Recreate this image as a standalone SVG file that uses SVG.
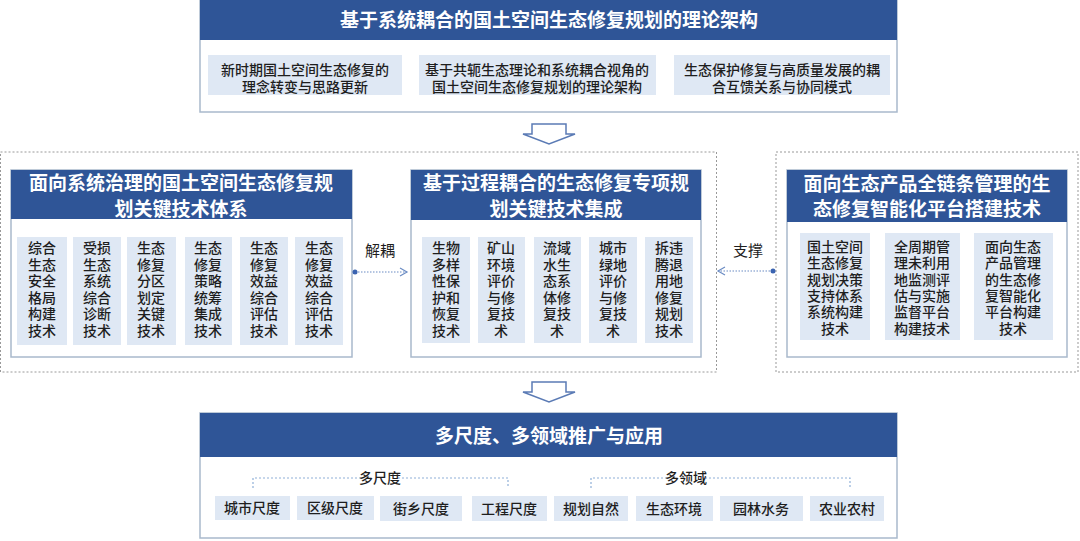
<svg xmlns="http://www.w3.org/2000/svg" width="1080" height="541" viewBox="0 0 1080 541">
<defs>
<style>
text{font-family:"Noto Sans CJK SC","Noto Sans",sans-serif;fill:#1e1e1e}
.hd{fill:#2f5597}
.body{fill:#fff;stroke:#a9b9cc;stroke-width:1.5}
.sub{fill:#dfe8f4}
.ttl{fill:#fff;font-size:19px;font-weight:700;text-anchor:middle}
.t14{font-size:14px;text-anchor:middle;font-weight:500}
.col{font-size:14px;text-anchor:middle;font-weight:500}
.dash{fill:none;stroke:#999;stroke-width:1;stroke-dasharray:2 2}
.blue{fill:none;stroke:#8fb0d8;stroke-width:1.2;stroke-dasharray:2 2}
.hollow{fill:#fff;stroke:#5b7bb5;stroke-width:1.5}
.conn{fill:none;stroke:#6b8cc4;stroke-width:1.2;stroke-dasharray:1.5 1.5}
</style>
<marker id="ah" markerWidth="10" markerHeight="10" refX="8" refY="5" orient="auto" markerUnits="userSpaceOnUse">
<path d="M1,1 L8,5 L1,9" fill="none" stroke="#6b8cc4" stroke-width="1.2"/>
</marker>
</defs>

<g id="top">
<rect class="body" x="200" y="0" width="697" height="112"/>
<rect class="hd" x="200" y="0" width="697" height="40"/>
<text class="ttl" x="549" y="27">基于系统耦合的国土空间生态修复规划的理论架构</text>
<rect class="sub" x="208" y="55" width="194" height="40"/>
<text class="t14" x="305" y="75">新时期国土空间生态修复的</text>
<text class="t14" x="305" y="92">理念转变与思路更新</text>
<rect class="sub" x="419" y="55" width="237" height="40"/>
<text class="t14" x="537" y="75">基于共轭生态理论和系统耦合视角的</text>
<text class="t14" x="537" y="92">国土空间生态修复规划的理论架构</text>
<rect class="sub" x="674" y="55" width="216" height="40"/>
<text class="t14" x="782" y="75">生态保护修复与高质量发展的耦</text>
<text class="t14" x="782" y="92">合互馈关系与协同模式</text>
</g>

<g id="arrow1"><path class="hollow" d="M532,124 H566 V134 H575 L549,144 L523,134 H532 Z"/></g>

<rect class="dash" x="0.5" y="152" width="716" height="220"/>
<rect class="dash" x="776" y="152" width="302" height="220"/>

<g id="left">
<rect class="body" x="11" y="170" width="341" height="187"/>
<rect class="hd" x="11" y="170" width="341" height="49"/>
<text class="ttl" x="181" y="190">面向系统治理的国土空间生态修复规</text>
<text class="ttl" x="181" y="216">划关键技术体系</text>
<rect class="sub" x="17" y="237" width="50" height="108"/>
<rect class="sub" x="73" y="237" width="48" height="108"/>
<rect class="sub" x="127" y="237" width="49" height="108"/>
<rect class="sub" x="185" y="237" width="47" height="108"/>
<rect class="sub" x="240" y="237" width="48" height="108"/>
<rect class="sub" x="295" y="237" width="48" height="108"/>
<text class="col" y="253"><tspan x="42">综合</tspan><tspan x="42" dy="16.6">生态</tspan><tspan x="42" dy="16.6">安全</tspan><tspan x="42" dy="16.6">格局</tspan><tspan x="42" dy="16.6">构建</tspan><tspan x="42" dy="16.6">技术</tspan></text>
<text class="col" y="253"><tspan x="97">受损</tspan><tspan x="97" dy="16.6">生态</tspan><tspan x="97" dy="16.6">系统</tspan><tspan x="97" dy="16.6">综合</tspan><tspan x="97" dy="16.6">诊断</tspan><tspan x="97" dy="16.6">技术</tspan></text>
<text class="col" y="253"><tspan x="151">生态</tspan><tspan x="151" dy="16.6">修复</tspan><tspan x="151" dy="16.6">分区</tspan><tspan x="151" dy="16.6">划定</tspan><tspan x="151" dy="16.6">关键</tspan><tspan x="151" dy="16.6">技术</tspan></text>
<text class="col" y="253"><tspan x="208">生态</tspan><tspan x="208" dy="16.6">修复</tspan><tspan x="208" dy="16.6">策略</tspan><tspan x="208" dy="16.6">统筹</tspan><tspan x="208" dy="16.6">集成</tspan><tspan x="208" dy="16.6">技术</tspan></text>
<text class="col" y="253"><tspan x="264">生态</tspan><tspan x="264" dy="16.6">修复</tspan><tspan x="264" dy="16.6">效益</tspan><tspan x="264" dy="16.6">综合</tspan><tspan x="264" dy="16.6">评估</tspan><tspan x="264" dy="16.6">技术</tspan></text>
<text class="col" y="253"><tspan x="319">生态</tspan><tspan x="319" dy="16.6">修复</tspan><tspan x="319" dy="16.6">效益</tspan><tspan x="319" dy="16.6">综合</tspan><tspan x="319" dy="16.6">评估</tspan><tspan x="319" dy="16.6">技术</tspan></text>
</g>

<g id="middle">
<rect class="body" x="411" y="170" width="290" height="187"/>
<rect class="hd" x="411" y="170" width="290" height="50"/>
<text class="ttl" x="556" y="190">基于过程耦合的生态修复专项规</text>
<text class="ttl" x="556" y="216">划关键技术集成</text>
<rect class="sub" x="422" y="237" width="48" height="106"/>
<rect class="sub" x="478" y="237" width="47" height="106"/>
<rect class="sub" x="534" y="237" width="47" height="106"/>
<rect class="sub" x="589" y="237" width="48" height="106"/>
<rect class="sub" x="645" y="237" width="48" height="106"/>
<text class="col" y="253"><tspan x="446">生物</tspan><tspan x="446" dy="16.6">多样</tspan><tspan x="446" dy="16.6">性保</tspan><tspan x="446" dy="16.6">护和</tspan><tspan x="446" dy="16.6">恢复</tspan><tspan x="446" dy="16.6">技术</tspan></text>
<text class="col" y="253"><tspan x="501">矿山</tspan><tspan x="501" dy="16.6">环境</tspan><tspan x="501" dy="16.6">评价</tspan><tspan x="501" dy="16.6">与修</tspan><tspan x="501" dy="16.6">复技</tspan><tspan x="501" dy="16.6">术</tspan></text>
<text class="col" y="253"><tspan x="557">流域</tspan><tspan x="557" dy="16.6">水生</tspan><tspan x="557" dy="16.6">态系</tspan><tspan x="557" dy="16.6">体修</tspan><tspan x="557" dy="16.6">复技</tspan><tspan x="557" dy="16.6">术</tspan></text>
<text class="col" y="253"><tspan x="613">城市</tspan><tspan x="613" dy="16.6">绿地</tspan><tspan x="613" dy="16.6">评价</tspan><tspan x="613" dy="16.6">与修</tspan><tspan x="613" dy="16.6">复技</tspan><tspan x="613" dy="16.6">术</tspan></text>
<text class="col" y="253"><tspan x="669">拆违</tspan><tspan x="669" dy="16.6">腾退</tspan><tspan x="669" dy="16.6">用地</tspan><tspan x="669" dy="16.6">修复</tspan><tspan x="669" dy="16.6">规划</tspan><tspan x="669" dy="16.6">技术</tspan></text>
</g>

<g id="right">
<rect class="body" x="787" y="170" width="280" height="187"/>
<rect class="hd" x="787" y="170" width="280" height="52"/>
<text class="ttl" x="927" y="191">面向生态产品全链条管理的生</text>
<text class="ttl" x="927" y="216">态修复智能化平台搭建技术</text>
<rect class="sub" x="800" y="233" width="70" height="107"/>
<rect class="sub" x="885" y="233" width="75" height="107"/>
<rect class="sub" x="974" y="233" width="79" height="107"/>
<text class="col" y="252"><tspan x="835">国土空间</tspan><tspan x="835" dy="16.3">生态修复</tspan><tspan x="835" dy="16.3">规划决策</tspan><tspan x="835" dy="16.3">支持体系</tspan><tspan x="835" dy="16.3">系统构建</tspan><tspan x="835" dy="16.3">技术</tspan></text>
<text class="col" y="252"><tspan x="922">全周期管</tspan><tspan x="922" dy="16.3">理未利用</tspan><tspan x="922" dy="16.3">地监测评</tspan><tspan x="922" dy="16.3">估与实施</tspan><tspan x="922" dy="16.3">监督平台</tspan><tspan x="922" dy="16.3">构建技术</tspan></text>
<text class="col" y="252"><tspan x="1013">面向生态</tspan><tspan x="1013" dy="16.3">产品管理</tspan><tspan x="1013" dy="16.3">的生态修</tspan><tspan x="1013" dy="16.3">复智能化</tspan><tspan x="1013" dy="16.3">平台构建</tspan><tspan x="1013" dy="16.3">技术</tspan></text>
</g>

<g id="connectors">
<path class="conn" d="M355,272 H407" marker-end="url(#ah)"/>
<circle cx="355" cy="272" r="2.5" fill="#3a63b0"/>
<text x="380" y="256" style="font-size:15px;text-anchor:middle">解耦</text>
<path class="conn" d="M773,271 H718" marker-end="url(#ah)"/>
<circle cx="773" cy="271" r="2.5" fill="#3a63b0"/>
<text x="748" y="256" style="font-size:15px;text-anchor:middle">支撑</text>
</g>

<g id="arrow2"><path class="hollow" d="M532,382 H566 V392 H575 L549,402 L523,392 H532 Z"/></g>

<g id="bottom">
<rect class="body" x="200" y="413" width="697" height="125"/>
<rect class="hd" x="200" y="413" width="697" height="44"/>
<text class="ttl" x="549" y="443">多尺度、多领域推广与应用</text>
<path class="blue" d="M253,488 V478 H362 M398,478 H508 V488"/>
<text class="t14" x="380" y="483">多尺度</text>
<path class="blue" d="M591,488 V478 H667 M705,478 H850 V488"/>
<text class="t14" x="686" y="483">多领域</text>
<rect class="sub" x="215" y="496" width="75" height="24"/>
<rect class="sub" x="297" y="496" width="77" height="24"/>
<rect class="sub" x="380" y="496" width="82" height="25"/>
<rect class="sub" x="472" y="496" width="75" height="25"/>
<rect class="sub" x="554" y="496" width="74" height="25"/>
<rect class="sub" x="636" y="496" width="77" height="25"/>
<rect class="sub" x="720" y="496" width="83" height="25"/>
<rect class="sub" x="810" y="496" width="74" height="25"/>
<text class="t14" x="252" y="513">城市尺度</text>
<text class="t14" x="335" y="513">区级尺度</text>
<text class="t14" x="421" y="514">街乡尺度</text>
<text class="t14" x="509" y="514">工程尺度</text>
<text class="t14" x="591" y="514">规划自然</text>
<text class="t14" x="674" y="514">生态环境</text>
<text class="t14" x="761" y="514">园林水务</text>
<text class="t14" x="847" y="514">农业农村</text>
</g>
</svg>
